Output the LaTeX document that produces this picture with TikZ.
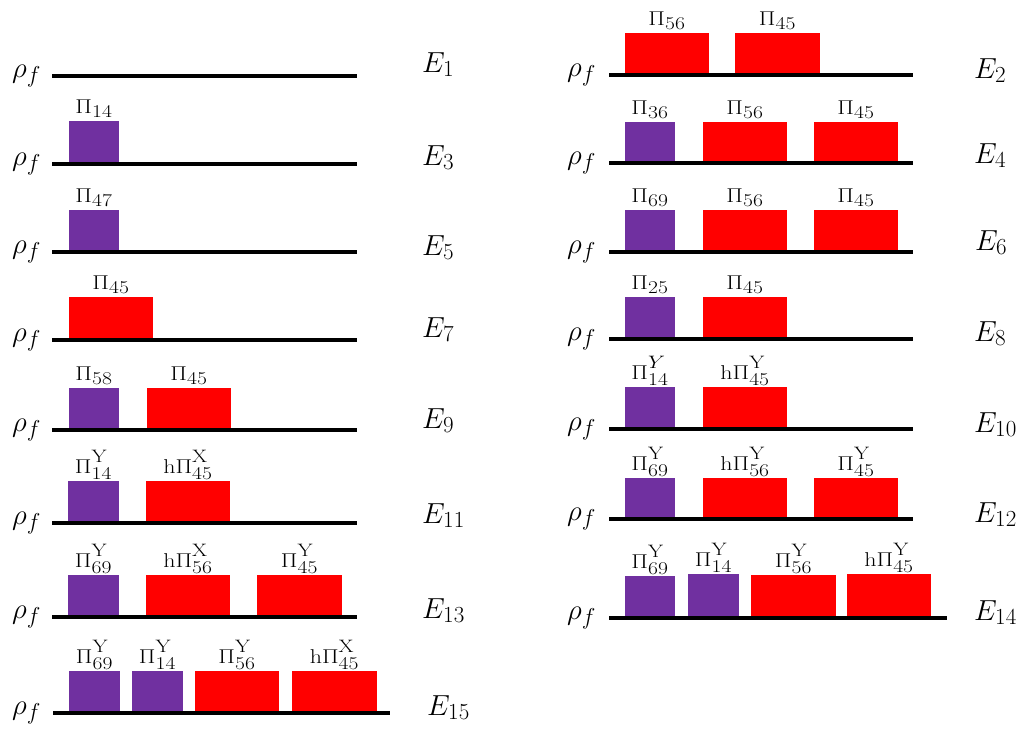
\RequirePackage{fix-cm}
\documentclass[tikz,border=0pt]{standalone}
\usepackage{graphicx}
\DeclareMathSizes{20}{20}{18}{14}
\DeclareMathSizes{29}{29}{23}{17}
\definecolor{purp}{HTML}{7030A0}
\definecolor{redbox}{HTML}{FF0000}
\newcommand{\supY}[1]{#1\vphantom{y}}
\tikzset{
  level/.style={line width=4pt, black},
  pbox/.style={fill=purp, draw=none, inner sep=0, outer sep=0, anchor=south west},
  rbox/.style={fill=redbox, draw=none, inner sep=0, outer sep=0, anchor=south west},
  lab/.style={anchor=base, inner sep=0, font=\fontsize{20}{21}\selectfont},
  rho/.style={anchor=base west, inner sep=0, font=\fontsize{29}{30}\selectfont},
  elab/.style={anchor=base west, inner sep=0, font=\fontsize{29}{30}\selectfont}
}
% #1 name, #2 style, #3 left x, #4 width, #5 line y, #6 top y, #7 label
\newcommand{\mybox}[7]{%
  \node[#2, minimum width=#4pt, minimum height={(#5-#6)*1pt}] (#1) at (#3,#5) {};
  \node[lab] (#1l) at ([yshift=8pt]#1.north) {\scalebox{1.2}[1]{#7}};
}
% #1 name, #2 x start, #3 x end, #4 y, #5 rho x, #6 E x, #7 E baseline, #8 E text
\newcommand{\mylevel}[8]{%
  \coordinate (#1s) at (#2,#4);
  \coordinate (#1e) at (#3,#4);
  \node[rho] (#1r) at (#5,{#4+1}) {$\rho_f$};
  \node[elab] (#1E) at (#6,#7) {$#8$};
}
\begin{document}
\begin{tikzpicture}[x=1pt,y=-1pt]
\useasboundingbox (0,0) rectangle (1024,728);
% ---------- left column ----------
\mylevel{L1}{52}{357}{76}{12}{422}{72}{E_1}
\mylevel{L3}{52}{357}{164}{12}{422}{165}{E_3}
\mybox{b3a}{pbox}{69}{50}{164}{121}{$\Pi_{14}$}
\mylevel{L5}{52}{357}{252}{12}{422}{255}{E_5}
\mybox{b5a}{pbox}{69}{50}{252}{210}{$\Pi_{47}$}
\mylevel{L7}{52}{357}{340}{12}{422}{337}{E_7}
\mybox{b7a}{rbox}{69}{84}{340}{297}{$\Pi_{45}$}
\mylevel{L9}{52}{357}{430}{12}{422}{428}{E_9}
\mybox{b9a}{pbox}{69}{50}{430}{388}{$\Pi_{58}$}
\mybox{b9b}{rbox}{147}{84}{430}{388}{$\Pi_{45}$}
\mylevel{L11}{52}{357}{523}{12}{422}{523}{E_{11}}
\mybox{b11a}{pbox}{68}{51}{523}{481}{$\Pi^{\supY{\mathrm{Y}}}_{14}$}
\mybox{b11b}{rbox}{146}{84}{523}{481}{$\mathrm{h}\Pi^{\supY{\mathrm{X}}}_{45}$}
\mylevel{L13}{52}{357}{617}{12}{422}{618}{E_{13}}
\mybox{b13a}{pbox}{68}{51}{617}{575}{$\Pi^{\supY{\mathrm{Y}}}_{69}$}
\mybox{b13b}{rbox}{146}{84}{617}{575}{$\mathrm{h}\Pi^{\supY{\mathrm{X}}}_{56}$}
\mybox{b13c}{rbox}{257}{85}{617}{575}{$\Pi^{\supY{\mathrm{Y}}}_{45}$}
\mylevel{L15}{53}{390}{713}{12}{427}{715}{E_{15}}
\mybox{b15a}{pbox}{69}{51}{713}{671}{$\Pi^{\supY{\mathrm{Y}}}_{69}$}
\mybox{b15b}{pbox}{132}{51}{713}{671}{$\Pi^{\supY{\mathrm{Y}}}_{14}$}
\mybox{b15c}{rbox}{195}{84}{713}{671}{$\Pi^{\supY{\mathrm{Y}}}_{56}$}
\mybox{b15d}{rbox}{292}{85}{713}{671}{$\mathrm{h}\Pi^{\supY{\mathrm{X}}}_{45}$}
% ---------- right column ----------
\mylevel{R2}{609}{913}{75}{567}{974}{78}{E_2}
\mybox{b2a}{rbox}{625}{84}{75}{33}{$\Pi_{56}$}
\mybox{b2b}{rbox}{735}{85}{75}{33}{$\Pi_{45}$}
\mylevel{R4}{609}{913}{163}{567}{974}{163}{E_4}
\mybox{b4a}{pbox}{625}{50}{163}{122}{$\Pi_{36}$}
\mybox{b4b}{rbox}{703}{84}{163}{122}{$\Pi_{56}$}
\mybox{b4c}{rbox}{814}{84}{163}{122}{$\Pi_{45}$}
\mylevel{R6}{609}{913}{252}{567}{975}{250}{E_6}
\mybox{b6a}{pbox}{625}{50}{252}{210}{$\Pi_{69}$}
\mybox{b6b}{rbox}{703}{84}{252}{210}{$\Pi_{56}$}
\mybox{b6c}{rbox}{814}{84}{252}{210}{$\Pi_{45}$}
\mylevel{R8}{609}{913}{339}{567}{974}{341}{E_8}
\mybox{b8a}{pbox}{625}{50}{339}{297}{$\Pi_{25}$}
\mybox{b8b}{rbox}{703}{84}{339}{297}{$\Pi_{45}$}
\mylevel{R10}{609}{913}{429}{567}{974}{432}{E_{10}}
\mybox{b10a}{pbox}{625}{50}{429}{387}{$\Pi^{\supY{Y}}_{14}$}
\mybox{b10b}{rbox}{703}{84}{429}{387}{$\mathrm{h}\Pi^{\supY{\mathrm{Y}}}_{45}$}
\mylevel{R12}{609}{913}{519}{567}{974}{522}{E_{12}}
\mybox{b12a}{pbox}{625}{50}{519}{478}{$\Pi^{\supY{\mathrm{Y}}}_{69}$}
\mybox{b12b}{rbox}{703}{84}{519}{478}{$\mathrm{h}\Pi^{\supY{\mathrm{Y}}}_{56}$}
\mybox{b12c}{rbox}{814}{84}{519}{478}{$\Pi^{\supY{\mathrm{Y}}}_{45}$}
\mylevel{R14}{609}{947}{618}{567}{974}{620}{E_{14}}
\mybox{b14a}{pbox}{625}{50}{618}{576}{$\Pi^{\supY{\mathrm{Y}}}_{69}$}
\mybox{b14b}{pbox}{688}{51}{618}{574}{$\Pi^{\supY{\mathrm{Y}}}_{14}$}
\mybox{b14c}{rbox}{751}{85}{618}{575}{$\Pi^{\supY{\mathrm{Y}}}_{56}$}
\mybox{b14d}{rbox}{847}{84}{618}{574}{$\mathrm{h}\Pi^{\supY{\mathrm{Y}}}_{45}$}
% ---------- level lines ----------
\foreach \n in {L1,L3,L5,L7,L9,L11,L13,L15,R2,R4,R6,R8,R10,R12,R14}
  \draw[level] (\n s) -- (\n e);
\end{tikzpicture}
\end{document}
